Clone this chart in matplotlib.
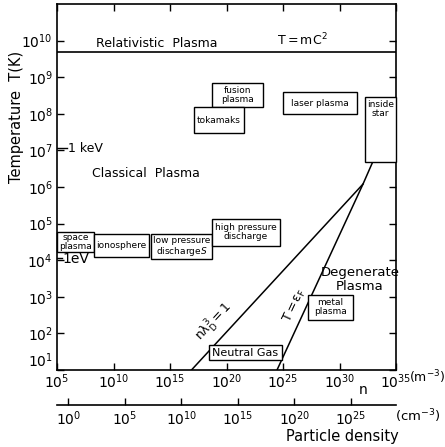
import numpy as np
import matplotlib.pyplot as plt
from matplotlib.patches import Rectangle

plt.rcParams['font.family'] = 'DejaVu Sans'
plt.rcParams['mathtext.default'] = 'regular'

# ---- data (log10 units) ----
n_range = [5, 35]          # log10 n (m^-3)
T_range = [1, 11]          # log10 T (K)
x_ticks = [5, 10, 15, 20, 25, 30, 35]
y_ticks = [1, 2, 3, 4, 5, 6, 7, 8, 9, 10]
cm_ticks = [0, 5, 10, 15, 20, 25]

T_rel = 9.68               # T = mc^2
T_keV = 7.06
T_eV = 4.06

# n lambda_D^3 = 1 line
debye_n = [16.9, 32.08]
debye_T = [1.0, 6.08]
# T = eps_F line
fermi_n = [24.47, 32.08, 34.85]
fermi_T = [1.0, 6.08, 8.03]

# boxes: label, n_min, n_max, T_min, T_max
box_labels = ['fusion\nplasma', 'tokamaks', 'laser plasma', 'inside\nstar',
              'space\nplasma', 'ionosphere', 'low pressure\ndischarge$\\mathit{S}$',
              'high pressure\ndischarge', 'metal\nplasma', 'Neutral Gas']
box_nmin = [18.69, 17.12, 25.03, 32.26, 5.0, 8.27, 13.29, 18.74, 27.24, 18.48]
box_nmax = [23.20, 21.55, 31.52, 35.0, 8.27, 13.14, 18.74, 24.73, 31.17, 24.88]
box_Tmin = [8.19, 7.48, 7.99, 6.69, 4.23, 4.08, 4.02, 4.40, 2.37, 1.27]
box_Tmax = [8.83, 8.18, 8.60, 8.47, 4.76, 4.72, 4.72, 5.13, 3.05, 1.68]

W, H = 445, 447
fig = plt.figure(figsize=(W / 100, H / 100), dpi=100)

def px(x, y):
    return x / W, 1 - y / H

ax = fig.add_axes([57 / W, (H - 370) / H, 339 / W, 366 / H])
ax.set_xlim(n_range)
ax.set_ylim(T_range)
for s in ax.spines.values():
    s.set_linewidth(1.2)

ax.set_xticks(x_ticks)
ax.set_xticklabels(['$10^{%d}$' % t for t in x_ticks], fontsize=10)
ax.set_yticks(y_ticks)
ax.set_yticklabels(['$10^{%d}$' % t for t in y_ticks], fontsize=10)
ax.tick_params(direction='in', length=5, width=1, top=True, right=True, pad=3)
ax.tick_params(axis='x', pad=1.5)
ax.get_yticklabels()[0].set_va('bottom')

# relativistic boundary
ax.axhline(T_rel, color='k', lw=1.2)
ax.plot(debye_n, debye_T, color='k', lw=1.1)
ax.plot(fermi_n, fermi_T, color='k', lw=1.1)

# 1 keV / 1 eV marks
ax.plot([5, 5.9], [T_keV, T_keV], color='k', lw=1)
ax.text(6.0, T_keV, '1 keV', fontsize=9, va='center', ha='left')
ax.plot([5, 5.45], [T_eV, T_eV], color='k', lw=1)
ax.text(5.5, T_eV - 0.03, '1eV', fontsize=10, va='center', ha='left')

# boxes
for i in range(len(box_labels)):
    r = Rectangle((box_nmin[i], box_Tmin[i]), box_nmax[i] - box_nmin[i],
                  box_Tmax[i] - box_Tmin[i], fc='white', ec='k', lw=1,
                  zorder=3 + i * 0.01, clip_on=False)
    ax.add_patch(r)
    cx = (box_nmin[i] + box_nmax[i]) / 2
    fs = 8 if box_labels[i] == 'Neutral Gas' else 6.5
    if box_labels[i].startswith('inside'):
        ax.text(cx, box_Tmax[i] - 0.08, box_labels[i], fontsize=6.5, ha='center',
                va='top', linespacing=1.0, zorder=4)
    else:
        cy = (box_Tmin[i] + box_Tmax[i]) / 2
        ax.text(cx, cy, box_labels[i], fontsize=fs, ha='center', va='center',
                linespacing=1.0, zorder=4)

# region labels
ax.text(13.85, 9.93, 'Relativistic  Plasma', fontsize=9, ha='center', va='center')
ax.text(26.7, 10.02, 'T$=$mC$^2$', fontsize=9, ha='center', va='center')
ax.text(8.1, 6.36, 'Classical  Plasma', fontsize=9, ha='left', va='center')
ax.text(31.8, 3.46, 'Degenerate\nPlasma', fontsize=9.5, ha='center', va='center',
        linespacing=1.1)
ax.text(18.98, 2.31, '$n\\lambda_D^3=1$', fontsize=9, ha='center', va='center',
        rotation=47, rotation_mode='anchor')
ax.text(26.06, 2.78, '$T=\\epsilon_F$', fontsize=9, ha='center', va='center',
        rotation=65, rotation_mode='anchor')

# second (cm^-3) axis
ax2 = fig.add_axes([57 / W, (H - 405) / H, 339 / W, 0.001])
ax2.set_xlim(n_range[0] - 6, n_range[1] - 6)
ax2.set_ylim(0, 1)
for k in ['top', 'left', 'right']:
    ax2.spines[k].set_visible(False)
ax2.spines['bottom'].set_linewidth(1.2)
ax2.set_yticks([])
ax2.set_xticks(cm_ticks)
ax2.set_xticklabels(['$10^{%d}$' % t for t in cm_ticks], fontsize=10)
ax2.tick_params(axis='x', direction='in', length=5, width=1, pad=3)
ax2.patch.set_visible(False)

fig.text(*px(427, 377), '(m$^{-3}$)', fontsize=9, ha='center', va='center')
fig.text(*px(418, 416), '(cm$^{-3}$)', fontsize=9.5, ha='center', va='center')
fig.text(*px(363, 390), 'n', fontsize=10, ha='center', va='center')
fig.text(*px(342, 437), 'Particle density', fontsize=10.5, ha='center', va='center')
fig.text(*px(17, 117), 'Temperature  T(K)', fontsize=10.5, ha='center', va='center',
         rotation=90)

fig.savefig('out.png', dpi=100)
